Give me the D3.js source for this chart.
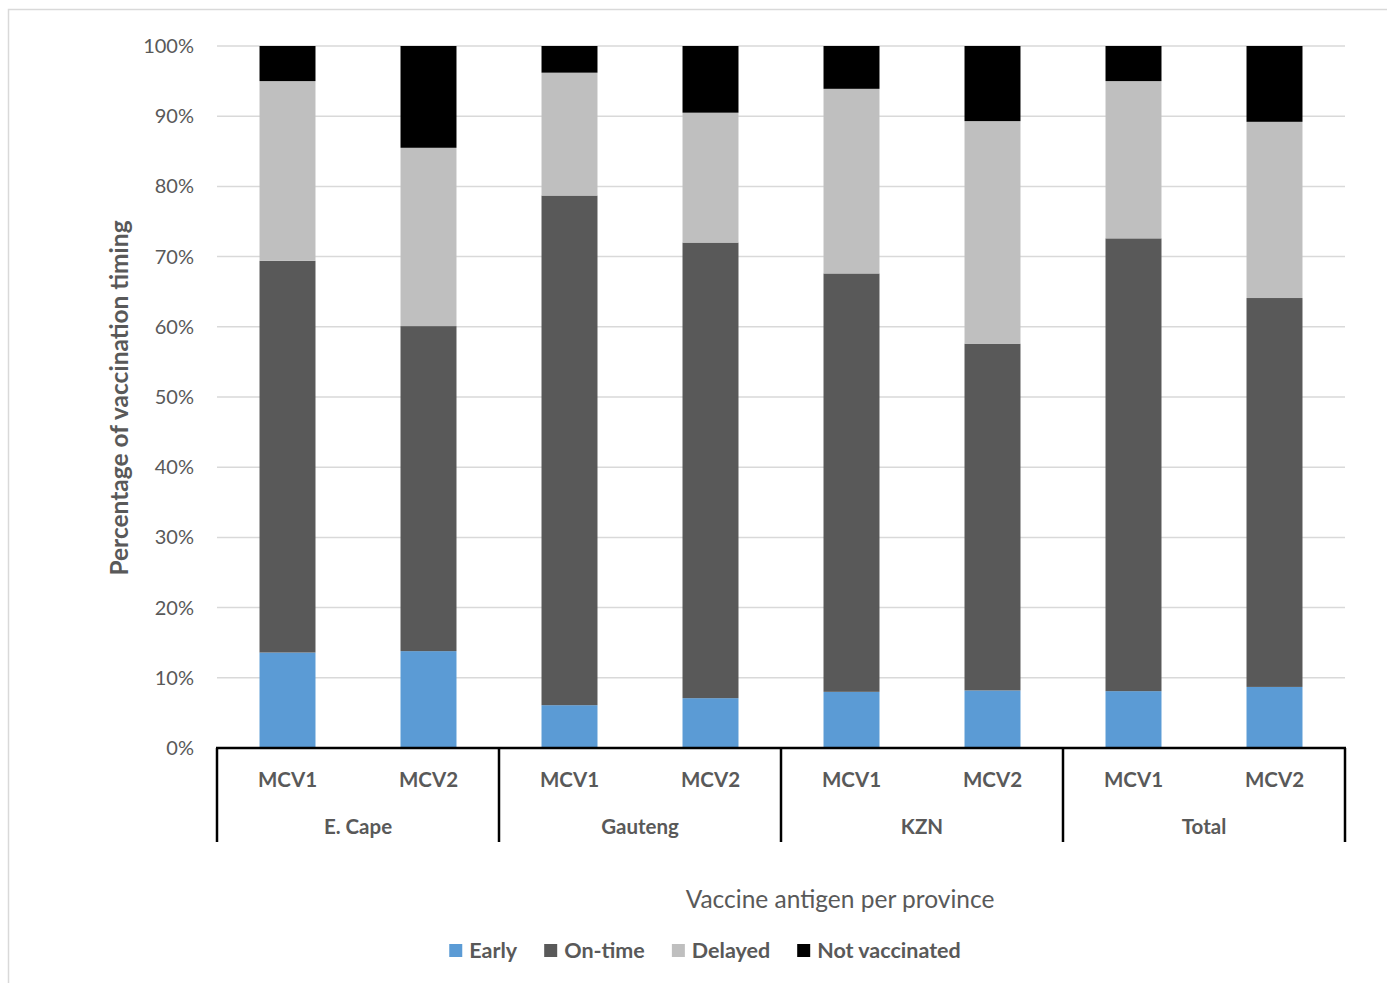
<!DOCTYPE html>
<meta charset="utf-8">
<style>
body { margin: 0; background: #fff; }
svg text { font-family: Lato, "Open Sans", sans-serif; fill: #595959; }
.grid line { stroke: #d9d9d9; stroke-width: 1.5px; }
.ytick text { font-size: 20px; text-anchor: end; }
.cat { font-size: 20.5px; font-weight: bold; text-anchor: middle; }
.leg text { font-size: 21.5px; font-weight: bold; }
</style>
<body>
<svg id="chart" width="1387" height="983"></svg>
<script src="https://cdn.jsdelivr.net/npm/d3@7"></script>
<script>
// data (percent of children per bar)
var provinces = ["E. Cape", "Gauteng", "KZN", "Total"];
var antigens = ["MCV1", "MCV2"];
var seriesNames = ["Early", "On-time", "Delayed", "Not vaccinated"];
var seriesColors = ["#5b9bd5", "#595959", "#bfbfbf", "#000000"];

// one value per bar, bars in order: E.Cape MCV1, E.Cape MCV2, Gauteng MCV1, ...
var early        = [13.6, 13.8, 6.1, 7.1, 8.0, 8.2, 8.1, 8.7];
var onTime       = [55.8, 46.3, 72.6, 64.9, 59.6, 49.4, 64.5, 55.4];
var delayed      = [25.6, 25.4, 17.5, 18.5, 26.3, 31.7, 22.4, 25.1];
var notVacc      = [5.0, 14.5, 3.8, 9.5, 6.1, 10.7, 5.0, 10.8];

var yTicks = [0, 10, 20, 30, 40, 50, 60, 70, 80, 90, 100];

var svg = d3.select("#chart");
var plotL = 217, plotR = 1345, plotT = 46, plotB = 748;

// frame around the chart area
svg.append("rect").attr("x", 8.5).attr("y", 9.5).attr("width", 1400).attr("height", 1000)
  .attr("fill", "none").attr("stroke", "#d9d9d9").attr("stroke-width", 1.5);

var bars = [];
provinces.forEach(function(p, i) {
  antigens.forEach(function(a, j) {
    var k = i * 2 + j;
    bars.push({key: p + "|" + a, province: p, antigen: a,
      Early: early[k], "On-time": onTime[k], Delayed: delayed[k], "Not vaccinated": notVacc[k]});
  });
});

var x = d3.scaleBand().domain(bars.map(function(d) { return d.key; }))
  .range([plotL, plotR]).paddingInner(0.603).paddingOuter(0.3015);
var xg = d3.scaleBand().domain(provinces).range([plotL, plotR]);
var y = d3.scaleLinear().domain([0, 100]).range([plotB, plotT]);
var color = d3.scaleOrdinal().domain(seriesNames).range(seriesColors);

// gridlines + tick labels
var g = svg.append("g").attr("class", "grid");
g.selectAll("line").data(yTicks.slice(1)).enter().append("line")
  .attr("x1", plotL).attr("x2", plotR)
  .attr("y1", function(d) { return y(d); }).attr("y2", function(d) { return y(d); });

svg.append("g").attr("class", "ytick").selectAll("text").data(yTicks).enter().append("text")
  .attr("x", 194).attr("y", function(d) { return y(d); }).attr("dy", "0.35em")
  .text(function(d) { return d + "%"; });

// stacked bars
var stack = d3.stack().keys(seriesNames)(bars);
svg.append("g").selectAll("g").data(stack).enter().append("g")
  .attr("fill", function(s) { return color(s.key); })
  .selectAll("rect").data(function(s) { return s; }).enter().append("rect")
  .attr("x", function(d) { return x(d.data.key); })
  .attr("width", x.bandwidth())
  .attr("y", function(d) { return y(d[1]); })
  .attr("height", function(d) { return y(d[0]) - y(d[1]); });

// category axis: line, separators, labels
svg.append("line").attr("x1", plotL - 1).attr("x2", plotR + 1).attr("y1", plotB).attr("y2", plotB)
  .attr("stroke", "#000").attr("stroke-width", 2.5);
var seps = provinces.map(function(p) { return xg(p); }).concat([plotR]);
svg.append("g").selectAll("line").data(seps).enter().append("line")
  .attr("x1", function(d) { return d; }).attr("x2", function(d) { return d; })
  .attr("y1", plotB).attr("y2", 842)
  .attr("stroke", "#000").attr("stroke-width", 2.5);

svg.append("g").selectAll("text").data(bars).enter().append("text")
  .attr("class", "cat")
  .attr("x", function(d) { return x(d.key) + x.bandwidth() / 2; })
  .attr("y", 787).text(function(d) { return d.antigen; });

svg.append("g").selectAll("text").data(provinces).enter().append("text")
  .attr("class", "cat")
  .attr("x", function(d) { return xg(d) + xg.bandwidth() / 2; })
  .attr("y", 834).text(function(d) { return d; });

// axis titles
svg.append("text").attr("x", 840).attr("y", 908)
  .attr("text-anchor", "middle").style("font-size", "24.5px")
  .text("Vaccine antigen per province");
svg.append("text").attr("transform", "translate(128,398) rotate(-90)")
  .attr("text-anchor", "middle").style("font-size", "24.5px").style("font-weight", "bold")
  .text("Percentage of vaccination timing");

// legend
var leg = svg.append("g").attr("class", "leg");
var items = leg.selectAll("g").data(seriesNames).enter().append("g");
items.append("rect").attr("width", 13).attr("height", 13).attr("y", -14)
  .attr("fill", function(d) { return color(d); });
items.append("text").attr("x", 20).attr("y", 0).text(function(d) { return d; });
var pos = 0;
items.each(function(d) {
  var w = 20 + this.querySelector("text").getComputedTextLength();
  d3.select(this).attr("transform", "translate(" + pos + ",0)");
  pos += w + 27;
});
var total = pos - 27;
leg.attr("transform", "translate(" + (705 - total / 2) + ",958)");
</script>
</body>
